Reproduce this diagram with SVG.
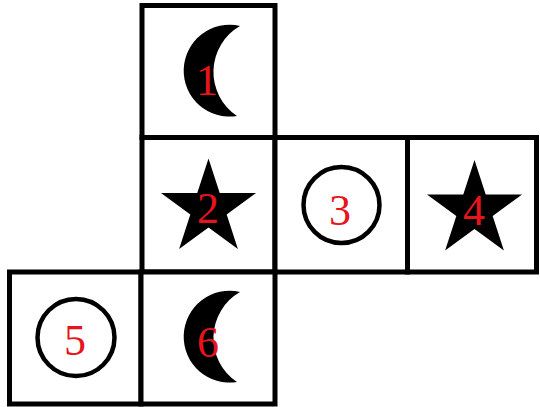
<svg xmlns="http://www.w3.org/2000/svg" xmlns:xlink="http://www.w3.org/1999/xlink" width="540" height="407" viewBox="0 0 540 407">
  <style>
    .cell { fill: #fff; stroke: #000; stroke-width: 5; }
    .ring { fill: none; stroke: #000; stroke-width: 4.5; }
    .solid { fill: #000; }
    .lbl { font-family: "Liberation Serif", "DejaVu Serif", serif; font-size: 44px; fill: #e8141c; text-anchor: middle; }
  </style>
  <defs>
    <path id="moon" d="M240,26 A45.9,45.9 0 1 0 237,116 A53,53 0 0 1 240,26 Z"/>
    <polygon id="star" points="0,-50 11.23,-15.45 47.55,-15.45 18.17,5.9 29.39,40.45 0,19.1 -29.39,40.45 -18.17,5.9 -47.55,-15.45 -11.23,-15.45"/>
  </defs>
  <rect width="540" height="407" fill="#fff"/>
  <g id="node1">
    <rect class="cell" x="142" y="5.5" width="133" height="132"/>
    <use xlink:href="#moon" href="#moon" class="solid"/>
    <text class="lbl" x="207" y="95">1</text>
  </g>
  <g id="node2">
    <rect class="cell" x="142" y="137.5" width="133" height="134.5"/>
    <use xlink:href="#star" href="#star" class="solid" transform="translate(208.5,208.5)"/>
    <text class="lbl" x="208" y="223">2</text>
  </g>
  <g id="node3">
    <rect class="cell" x="275" y="137.5" width="132.5" height="134.5"/>
    <circle class="ring" cx="341.5" cy="205" r="38"/>
    <text class="lbl" x="340" y="225">3</text>
  </g>
  <g id="node4">
    <rect class="cell" x="407.5" y="137.5" width="129" height="134.5"/>
    <use xlink:href="#star" href="#star" class="solid" transform="translate(474.5,210)"/>
    <text class="lbl" x="474" y="225">4</text>
  </g>
  <g id="node5">
    <rect class="cell" x="9.5" y="272" width="131.5" height="132"/>
    <circle class="ring" cx="76" cy="337.5" r="38.5"/>
    <text class="lbl" x="75" y="355">5</text>
  </g>
  <g id="node6">
    <rect class="cell" x="141" y="272" width="134" height="132"/>
    <use xlink:href="#moon" href="#moon" class="solid" transform="translate(0,266)"/>
    <text class="lbl" x="208" y="357">6</text>
  </g>
</svg>
